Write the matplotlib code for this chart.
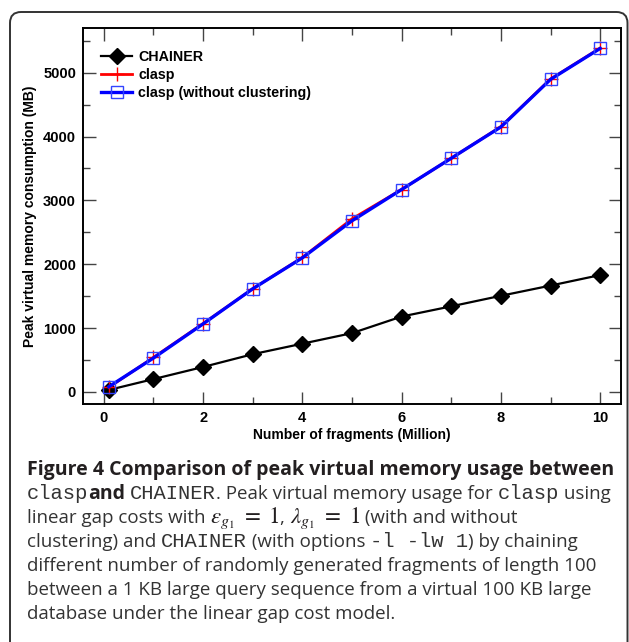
import numpy as np
import matplotlib
matplotlib.use('Agg')
import matplotlib.pyplot as plt
from matplotlib.patches import FancyBboxPatch
from matplotlib.transforms import IdentityTransform

# data
fragments = [0.1, 1, 2, 3, 4, 5, 6, 7, 8, 9, 10]
chainer_mb = [30, 200, 390, 590, 755, 920, 1180, 1340, 1505, 1665, 1830]
clasp_mb = [70, 540, 1070, 1615, 2105, 2710, 3170, 3660, 4155, 4900, 5385]
clasp_nc_mb = [80, 530, 1065, 1615, 2100, 2680, 3170, 3660, 4150, 4895, 5380]
x_ticks = [0, 2, 4, 6, 8, 10]
y_ticks = [0, 1000, 2000, 3000, 4000, 5000]

caption_lines = [
    [('Figure 4 Comparison of peak virtual memory usage between', 'bold')],
    [('clasp', 'mono'), ('and', 'bold'), (' ', 'reg'), ('CHAINER', 'mono'),
     ('. Peak virtual memory usage for ', 'reg'), ('clasp', 'mono'), (' using', 'reg')],
    [('linear gap costs with ', 'reg'), (r'$\varepsilon_{g_1}\ =\ 1$', 'math'), (', ', 'reg'),
     (r'$\lambda_{g_1}\ =\ 1$', 'math'), (' (with and without', 'reg')],
    [('clustering) and ', 'reg'), ('CHAINER', 'mono'), (' (with options ', 'reg'),
     ('-l -lw 1', 'mono'), (') by chaining', 'reg')],
    [('different number of randomly generated fragments of length 100', 'reg')],
    [('between a 1 KB large query sequence from a virtual 100 KB large', 'reg')],
    [('database under the linear gap cost model.', 'reg')],
]

W, H = 629, 642
plt.rcParams['mathtext.fontset'] = 'stix'
fig = plt.figure(figsize=(W / 100, H / 100), dpi=100)
fig.patch.set_facecolor('white')

# rounded frame around figure + caption
frame = FancyBboxPatch((10, -40), 617.5, 630 + 40, boxstyle='round,pad=0,rounding_size=11',
                       transform=IdentityTransform(), fill=False, ec='#333333', lw=1.4)
fig.patches.append(frame)

ax = fig.add_axes([83 / W, 1 - 404 / H, (621 - 83) / W, (404 - 28) / H])
chart_font = 'Liberation Sans'

ax.plot(fragments, chainer_mb, color='black', lw=1.6, marker='D', ms=8, label='CHAINER', zorder=3)
ax.plot(fragments, clasp_mb, color='red', lw=2.0, marker='+', ms=10, mew=1.0, label='clasp', zorder=4)
ax.plot(fragments, clasp_nc_mb, color='blue', lw=2.4, marker='s', ms=8, mfc='none', mec='#3344ff',
        mew=1.0, label='clasp (without clustering)', zorder=5)

ax.set_xlim(-0.42, 10.42)
ax.set_ylim(-190, 5700)
ax.set_xticks(x_ticks)
ax.set_xticks(np.arange(0, 11, 1), minor=True)
ax.set_yticks(y_ticks)
ax.set_yticks(np.arange(0, 5600, 500), minor=True)
ax.tick_params(which='both', direction='in', top=True, right=True, color='#444444', width=1.0)
ax.tick_params(which='major', length=9, labelsize=10.5, pad=5)
ax.tick_params(which='minor', length=5)
for lab in ax.get_xticklabels() + ax.get_yticklabels():
    lab.set_fontfamily(chart_font)
    lab.set_fontweight('bold')
for sp in ax.spines.values():
    sp.set_linewidth(1.4)

ax.set_xlabel('Number of fragments (Million)', fontsize=10, fontweight='bold',
              family=chart_font, labelpad=2)
ax.set_ylabel('Peak virtual memory consumption (MB)', fontsize=10, fontweight='bold',
              family=chart_font, labelpad=4)

leg = ax.legend(loc='upper left', frameon=False, prop={'family': chart_font, 'weight': 'bold', 'size': 10.3},
                handlelength=2.2, handletextpad=0.42, labelspacing=0.25, borderaxespad=0.3,
                bbox_to_anchor=(0.0145, 0.967))

# caption, written run by run
styles = {
    'bold': dict(family='Open Sans', weight='bold', size=14.0, color='#231f20'),
    'reg': dict(family='Open Sans', weight='normal', size=13.5, color='#333333'),
    'mono': dict(family='Liberation Mono', weight='normal', size=14.8, color='#333333'),
    'math': dict(size=16.5, color='#231f20'),
}
renderer = fig.canvas.get_renderer()


def run_width(txt, st):
    if st == 'math':
        t = fig.text(0, 0, txt, **styles[st])
        w = t.get_window_extent(renderer).width
        t.remove()
        return w
    t1 = fig.text(0, 0, txt + '|', **styles[st])
    t2 = fig.text(0, 0, '|', **styles[st])
    w = t1.get_window_extent(renderer).width - t2.get_window_extent(renderer).width
    t1.remove()
    t2.remove()
    return w


baseline = 475
for line in caption_lines:
    x = 27
    for txt, st in line:
        fig.text(x / W, 1 - baseline / H, txt, va='baseline', ha='left', **styles[st])
        x += run_width(txt, st)
    baseline += 24

fig.savefig('out.png', dpi=100, facecolor='white')
